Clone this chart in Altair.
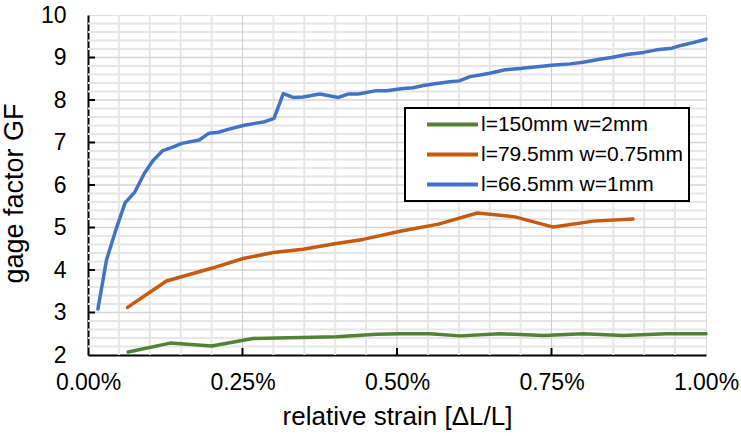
import altair as alt
import pandas as pd

# ---------------- data (strain in %, gage factor) ----------------
series_names = ["l=150mm w=2mm", "l=79.5mm w=0.75mm", "l=66.5mm w=1mm"]
series_colors = ["#548235", "#C55A11", "#4472C4"]

green_x = [0.065, 0.133, 0.200, 0.267, 0.402, 0.467, 0.505, 0.553, 0.602, 0.667, 0.737, 0.801, 0.866, 0.936, 1.000]
green_y = [2.07, 2.28, 2.21, 2.39, 2.43, 2.49, 2.50, 2.50, 2.45, 2.50, 2.46, 2.50, 2.46, 2.50, 2.50]

orange_x = [0.064, 0.127, 0.200, 0.251, 0.300, 0.348, 0.397, 0.445, 0.505, 0.567, 0.630, 0.691, 0.753, 0.818, 0.882]
orange_y = [3.12, 3.74, 4.04, 4.27, 4.41, 4.49, 4.61, 4.72, 4.91, 5.08, 5.34, 5.25, 5.01, 5.15, 5.20]

blue_x = [0.016, 0.030, 0.045, 0.060, 0.076, 0.091, 0.105, 0.121, 0.135, 0.152, 0.180, 0.196, 0.211, 0.227,
          0.251, 0.270, 0.286, 0.301, 0.316, 0.332, 0.348, 0.375, 0.405, 0.421, 0.437, 0.467, 0.483, 0.510,
          0.526, 0.543, 0.561, 0.586, 0.601, 0.618, 0.634, 0.650, 0.675, 0.699, 0.750, 0.780, 0.801, 0.828,
          0.847, 0.872, 0.899, 0.920, 0.945, 0.961, 0.979, 1.000]
blue_y = [3.08, 4.24, 4.94, 5.58, 5.84, 6.27, 6.57, 6.81, 6.88, 6.98, 7.06, 7.22, 7.24, 7.31,
          7.40, 7.45, 7.49, 7.57, 8.15, 8.06, 8.07, 8.14, 8.06, 8.14, 8.14, 8.22, 8.22, 8.27,
          8.29, 8.34, 8.38, 8.43, 8.45, 8.55, 8.59, 8.63, 8.71, 8.74, 8.82, 8.85, 8.89, 8.96,
          9.00, 9.07, 9.12, 9.18, 9.22, 9.29, 9.35, 9.43]

x_ticks = [0.0, 0.25, 0.5, 0.75, 1.0]
y_ticks = [2, 3, 4, 5, 6, 7, 8, 9, 10]
x_minor = [0.05, 0.10, 0.15, 0.20, 0.30, 0.35, 0.40, 0.45, 0.55, 0.60, 0.65, 0.70, 0.80, 0.85, 0.90, 0.95]
y_minor = [2.2, 2.4, 2.6, 2.8, 3.2, 3.4, 3.6, 3.8, 4.2, 4.4, 4.6, 4.8, 5.2, 5.4, 5.6, 5.8,
           6.2, 6.4, 6.6, 6.8, 7.2, 7.4, 7.6, 7.8, 8.2, 8.4, 8.6, 8.8, 9.2, 9.4, 9.6, 9.8]
x_major_inner = [0.25, 0.5, 0.75]
y_major_inner = [3, 4, 5, 6, 7, 8, 9]

# ---------------- tables ----------------
rows = []
for name, xs_, ys_ in zip(series_names, [green_x, orange_x, blue_x], [green_y, orange_y, blue_y]):
    for a, b in zip(xs_, ys_):
        rows.append({"series": name, "strain": a, "gf": b})
df = pd.DataFrame(rows)

W, H = 618, 340
FONT = "Liberation Sans"

xs = alt.Scale(domain=[0, 1], nice=False, zero=False)
ys = alt.Scale(domain=[2, 10], nice=False, zero=False)

x_axis = alt.Axis(values=x_ticks, labelExpr="format(datum.value, '.2f') + '%'", grid=False, ticks=False,
                  domainColor="black", domainWidth=2, labelFontSize=23, labelColor="black",
                  labelPadding=16, title="relative strain [ΔL/L]", titleFontSize=26,
                  titleFontWeight="normal", titleColor="black", titlePadding=9, labelFlush=False)
y_axis = alt.Axis(values=y_ticks, format="d", grid=False, ticks=False,
                  domainColor="black", domainWidth=2, labelFontSize=23, labelColor="black",
                  labelPadding=22, title="gage factor GF", titleFontSize=27, titleY=178,
                  titleFontWeight="normal", titleColor="black", titlePadding=12)


def xgrid(vals, color, width):
    return alt.Chart(pd.DataFrame({"gx": vals})).mark_rule(color=color, strokeWidth=width).encode(
        x=alt.X("gx:Q", scale=xs, axis=x_axis))


def ygrid(vals, color, width):
    return alt.Chart(pd.DataFrame({"gy": vals})).mark_rule(color=color, strokeWidth=width).encode(
        y=alt.Y("gy:Q", scale=ys, axis=y_axis))


minor_x = xgrid(x_minor, "#e6e6e6", 2)
minor_y = ygrid(y_minor, "#e6e6e6", 2)
major_x = xgrid(x_major_inner, "#cccccc", 1)
major_y = ygrid(y_major_inner, "#d4d4d4", 1.5)

lines = alt.Chart(df).mark_line(strokeWidth=3.5, strokeCap="round", strokeJoin="round").encode(
    x=alt.X("strain:Q", scale=xs, axis=x_axis),
    y=alt.Y("gf:Q", scale=ys, axis=y_axis),
    color=alt.Color("series:N", sort=series_names,
                    scale=alt.Scale(domain=series_names, range=series_colors),
                    legend=alt.Legend(title=None, orient="none", legendX=317, legendY=93,
                                      symbolType="M-3,0H3", symbolSize=289, symbolStrokeWidth=4,
                                      labelFontSize=21, labelColor="black", labelFont=FONT,
                                      labelLimit=0, rowPadding=8, padding=6,
                                      symbolOffset=31, labelOffset=18,
                                      strokeColor="black", fillColor="white")),
    order=alt.Order("strain:Q"),
)

yt = alt.Chart(pd.DataFrame({"ty": y_major_inner})).mark_rule(color="black", strokeWidth=2).encode(
    y=alt.Y("ty:Q", scale=ys, axis=y_axis), x=alt.value(0), x2=alt.value(7))
xt = alt.Chart(pd.DataFrame({"tx": x_major_inner})).mark_rule(color="black", strokeWidth=2).encode(
    x=alt.X("tx:Q", scale=xs, axis=x_axis), y=alt.value(H), y2=alt.value(H - 7))

chart = alt.layer(minor_x, minor_y, major_x, major_y, lines, yt, xt).properties(
    width=W, height=H,
    autosize=alt.AutoSizeParams(type="none"),
    padding={"left": 88, "top": 15, "right": 35, "bottom": 81},
    background="white",
).configure_view(stroke="black", strokeWidth=2).configure(font=FONT).configure_legend(strokeWidth=2)

chart.save("out.html", embed_options={"renderer": "svg", "actions": False})
